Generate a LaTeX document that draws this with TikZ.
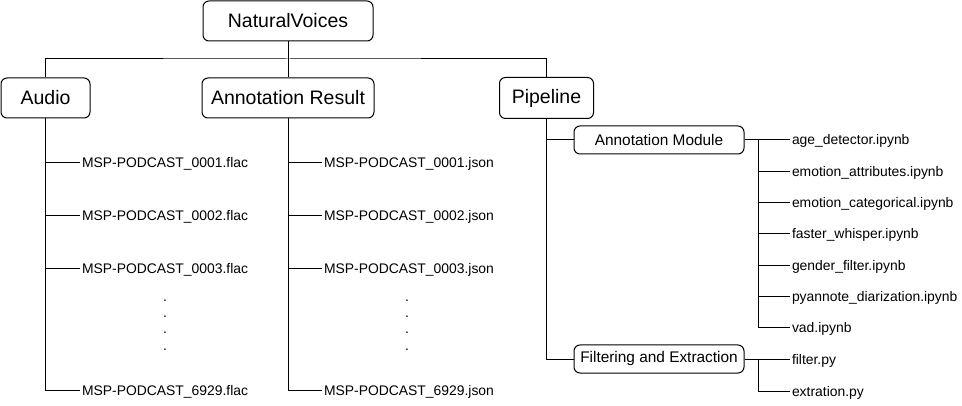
\documentclass[tikz,border=0pt]{standalone}
\usepackage{fontspec}
\setmainfont{Liberation Sans}
\begin{document}
\begin{tikzpicture}[x=1pt,y=-1pt,line width=1pt,
  bigbox/.style={draw,rounded corners=6pt,inner sep=0pt,minimum height=40pt,font=\fontsize{19.5}{23}\selectfont},
  modbox/.style={draw,rounded corners=6pt,inner sep=0pt,minimum width=170pt,minimum height=28pt,font=\fontsize{15.4}{18}\selectfont},
  filelbl/.style={anchor=west,inner xsep=1.5pt,inner ysep=0pt,text height=10pt,text depth=0pt,font=\fontsize{13.9}{16}\selectfont},
  dotlbl/.style={inner sep=0pt,font=\fontsize{13.9}{16}\selectfont}]
\useasboundingbox (0,0) rectangle (962,406);

% top level
\node[bigbox,minimum width=170pt] (nv) at (288,21) {NaturalVoices};
\node[bigbox,minimum width=89pt] (audio) at (45.5,98) {Audio};
\node[bigbox,minimum width=172pt] (ar) at (288,98) {Annotation Result};
\node[bigbox,minimum width=94pt,minimum height=41pt] (pipe) at (546.5,98) {Pipeline};
\coordinate (bus) at (288,59);
\draw (nv.south) -- (ar.north);
\draw (audio.north) |- (bus) -| (pipe.north);

% Audio files
\node[filelbl] (a1) at (80,163) {MSP-PODCAST\_0001.flac};
\node[filelbl] (a2) at (80,216) {MSP-PODCAST\_0002.flac};
\node[filelbl] (a3) at (80,269) {MSP-PODCAST\_0003.flac};
\node[filelbl] (a4) at (80,390) {MSP-PODCAST\_6929.flac};
\node[dotlbl] (ad1) at (165,301) {.};
\node[dotlbl] (ad2) at (165,317) {.};
\node[dotlbl] (ad3) at (165,333) {.};
\node[dotlbl] (ad4) at (165,350) {.};
\draw (audio.south) |- (a4.west);
\foreach \n in {a1,a2,a3} \draw (audio.south |- \n.west) -- (\n.west);

% Annotation result files
\node[filelbl] (r1) at (322,163) {MSP-PODCAST\_0001.json};
\node[filelbl] (r2) at (322,216) {MSP-PODCAST\_0002.json};
\node[filelbl] (r3) at (322,269) {MSP-PODCAST\_0003.json};
\node[filelbl] (r4) at (322,390) {MSP-PODCAST\_6929.json};
\node[dotlbl] (rd1) at (407,301) {.};
\node[dotlbl] (rd2) at (407,317) {.};
\node[dotlbl] (rd3) at (407,333) {.};
\node[dotlbl] (rd4) at (407,350) {.};
\draw (ar.south) |- (r4.west);
\foreach \n in {r1,r2,r3} \draw (ar.south |- \n.west) -- (\n.west);

% Pipeline
\node[modbox] (am) at (659,140) {Annotation Module};
\node[modbox] (fe) at (659,359) {Filtering and Extraction};
\draw (pipe.south) |- (fe.west);
\draw (pipe.south |- am.west) -- (am.west);

\node[filelbl] (p1) at (790,140) {age\_detector.ipynb};
\node[filelbl] (p2) at (790,171.3) {emotion\_attributes.ipynb};
\node[filelbl] (p3) at (790,202.7) {emotion\_categorical.ipynb};
\node[filelbl] (p4) at (790,234) {faster\_whisper.ipynb};
\node[filelbl] (p5) at (790,265.3) {gender\_filter.ipynb};
\node[filelbl] (p6) at (790,296.7) {pyannote\_diarization.ipynb};
\node[filelbl] (p7) at (790,328) {vad.ipynb};
\coordinate (amv) at (758,140);
\draw (am.east) -- (p1.west);
\draw (amv) |- (p7.west);
\foreach \n in {p2,p3,p4,p5,p6} \draw (amv |- \n.west) -- (\n.west);

\node[filelbl] (q1) at (790,359) {filter.py};
\node[filelbl] (q2) at (790,391) {extration.py};
\coordinate (fev) at (758,359);
\draw (fe.east) -- (q1.west);
\draw (fev) |- (q2.west);
\end{tikzpicture}
\end{document}
